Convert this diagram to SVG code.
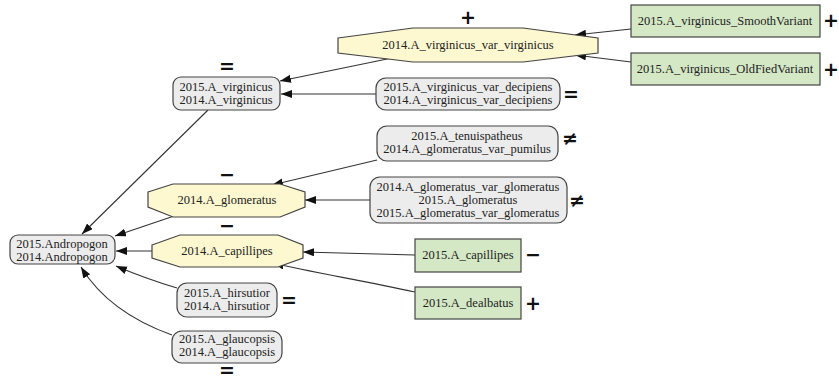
<svg xmlns="http://www.w3.org/2000/svg" width="839" height="380" viewBox="0 0 839 380">
<defs>
<marker id="ah" markerUnits="userSpaceOnUse" markerWidth="12" markerHeight="10" refX="11" refY="4" orient="auto">
<path d="M0,0 L11,4 L0,8 Z" fill="#111"/>
</marker>
<style>
.g{fill:#ececec;stroke:#444;stroke-width:1.2}
.y{fill:#fdf8cf;stroke:#444;stroke-width:1.2}
.n{fill:#d4e8c5;stroke:#444;stroke-width:1.2}
.t{font-size:12.5px;fill:#222;text-anchor:middle}
.s{font-family:'DejaVu Sans','Liberation Sans',sans-serif;font-size:19px;font-weight:bold;fill:#111;text-anchor:middle}
.e{fill:none;stroke:#333;stroke-width:1.1;marker-end:url(#ah)}
</style>
</defs>
<rect width="839" height="380" fill="#fff"/>
<g id="connectors">
<path class="e" d="M631,29 L575,35"/>
<path class="e" d="M631,62 L575,55"/>
<path class="e" d="M392,58 L280,81"/>
<path class="e" d="M376,94 L281,94"/>
<path class="e" d="M208,110 L82,234"/>
<path class="e" d="M377,160 L272,185"/>
<path class="e" d="M370,200 L305,200"/>
<path class="e" d="M180,214 L115,236"/>
<path class="e" d="M152,251 L116,251"/>
<path class="e" d="M415,255 L303,252"/>
<path class="e" d="M415,292 C360,280 310,272 273,263"/>
<path class="e" d="M177,288 C150,280 130,272 116,266"/>
<path class="e" d="M172,335 C130,320 100,298 81,267"/>
</g>
<g font-family="Liberation Serif, Times New Roman, serif">
<g id="andropogon">
<rect class="g" x="10" y="235" width="105" height="29" rx="8"/>
<text class="t" x="62" y="248">2015.Andropogon</text>
<text class="t" x="62" y="261">2014.Andropogon</text>
</g>
<g id="virginicus">
<rect class="g" x="173" y="77" width="107" height="33" rx="8"/>
<text class="t" x="226" y="91">2015.A_virginicus</text>
<text class="t" x="226" y="104">2014.A_virginicus</text>
<text class="s" x="227" y="73">=</text>
</g>
<g id="var_virginicus">
<polygon class="y" points="338,38 413,28 523,28 598,38 598,53 523,62 413,62 338,53"/>
<text class="t" x="468" y="49">2014.A_virginicus_var_virginicus</text>
<text class="s" x="468" y="24">+</text>
</g>
<g id="smooth">
<rect class="n" x="631" y="5" width="189" height="32"/>
<text class="t" x="725" y="25">2015.A_virginicus_SmoothVariant</text>
<text class="s" x="831" y="27">+</text>
</g>
<g id="oldfied">
<rect class="n" x="631" y="53" width="189" height="32"/>
<text class="t" x="725" y="73">2015.A_virginicus_OldFiedVariant</text>
<text class="s" x="831" y="76">+</text>
</g>
<g id="decipiens">
<rect class="g" x="376" y="78" width="184" height="32" rx="10"/>
<text class="t" x="468" y="91">2015.A_virginicus_var_decipiens</text>
<text class="t" x="468" y="104">2014.A_virginicus_var_decipiens</text>
<text class="s" x="571" y="101">=</text>
</g>
<g id="tenuispatheus">
<rect class="g" x="377" y="126" width="181" height="35" rx="10"/>
<text class="t" x="467" y="140">2015.A_tenuispatheus</text>
<text class="t" x="467" y="153">2014.A_glomeratus_var_pumilus</text>
<text class="s" x="570" y="145">≠</text>
</g>
<g id="glomeratus">
<polygon class="y" points="148,192 173,184 280,184 305,192 305,207 280,217 173,217 148,207"/>
<text class="t" x="227" y="204">2014.A_glomeratus</text>
<text class="s" x="227" y="181">−</text>
</g>
<g id="glomeratus_group">
<rect class="g" x="370" y="177" width="197" height="46" rx="10"/>
<text class="t" x="468" y="191">2014.A_glomeratus_var_glomeratus</text>
<text class="t" x="468" y="204">2015.A_glomeratus</text>
<text class="t" x="468" y="217">2015.A_glomeratus_var_glomeratus</text>
<text class="s" x="577" y="207">≠</text>
</g>
<g id="capillipes">
<polygon class="y" points="152,245 180,235 278,235 303,245 303,258 278,267 180,267 152,258"/>
<text class="t" x="227" y="255">2014.A_capillipes</text>
<text class="s" x="227" y="232">−</text>
</g>
<g id="capillipes_2015">
<rect class="n" x="415" y="239" width="106" height="33"/>
<text class="t" x="468" y="259">2015.A_capillipes</text>
<text class="s" x="533" y="261">−</text>
</g>
<g id="dealbatus">
<rect class="n" x="415" y="287" width="106" height="32"/>
<text class="t" x="468" y="307">2015.A_dealbatus</text>
<text class="s" x="533" y="310">+</text>
</g>
<g id="hirsutior">
<rect class="g" x="177" y="283" width="100" height="34" rx="10"/>
<text class="t" x="227" y="297">2015.A_hirsutior</text>
<text class="t" x="227" y="310">2014.A_hirsutior</text>
<text class="s" x="289" y="307">=</text>
</g>
<g id="glaucopsis">
<rect class="g" x="172" y="331" width="110" height="32" rx="10"/>
<text class="t" x="227" y="343">2015.A_glaucopsis</text>
<text class="t" x="227" y="356">2014.A_glaucopsis</text>
<text class="s" x="227" y="377" font-size="14">=</text>
</g>
</g>
</svg>
